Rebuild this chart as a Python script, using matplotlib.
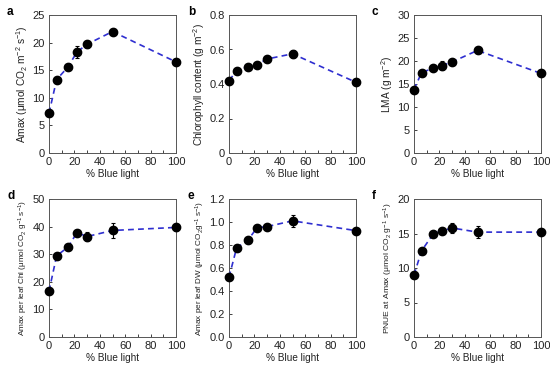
import matplotlib
matplotlib.use("Agg")
import matplotlib.pyplot as plt
from matplotlib.ticker import MultipleLocator

plt.rcParams['font.family'] = ['Liberation Sans', 'DejaVu Sans']
plt.rcParams['mathtext.fontset'] = 'custom'
plt.rcParams['mathtext.rm'] = 'Liberation Sans'
plt.rcParams['mathtext.it'] = 'Liberation Sans:italic'
plt.rcParams['mathtext.default'] = 'regular'

blue_pct = [0, 6, 15, 22, 30, 50, 100]

amax = [7.2, 13.3, 15.6, 18.3, 19.7, 22.0, 16.5]
amax_err = [0.4, 0.4, 0.4, 1.0, 0.6, 0.4, 0.3]

chl = [0.42, 0.476, 0.50, 0.512, 0.545, 0.575, 0.41]
chl_err = [0.01, 0.01, 0.01, 0.01, 0.01, 0.025, 0.01]

lma = [13.8, 17.5, 18.4, 19.0, 19.8, 22.3, 17.3]
lma_err = [0.3, 0.3, 0.3, 0.9, 0.3, 0.6, 0.3]

amax_chl = [16.6, 29.4, 32.6, 37.8, 36.4, 38.6, 39.7]
amax_chl_err = [0.5, 0.6, 0.6, 0.6, 1.6, 2.8, 1.2]

amax_dw = [0.52, 0.775, 0.843, 0.95, 0.96, 1.01, 0.925]
amax_dw_err = [0.02, 0.01, 0.01, 0.01, 0.01, 0.05, 0.01]

pnue = [9.0, 12.5, 14.9, 15.4, 15.8, 15.2, 15.2]
pnue_err = [0.2, 0.2, 0.2, 0.3, 0.7, 0.9, 0.3]

panels = [
    ('a', amax, amax_err, 'Amax (μmol CO$_2$ m$^{-2}$ s$^{-1}$)', (0, 25), 5, None, 7.3),
    ('b', chl, chl_err, 'Chlorophyll content (g m$^{-2}$)', (0, 0.8), 0.2, ['0', '0.2', '0.4', '0.6', '0.8'], 7.3),
    ('c', lma, lma_err, 'LMA (g m$^{-2}$)', (0, 30), 5, None, 7.3),
    ('d', amax_chl, amax_chl_err, 'Amax per leaf Chl (μmol CO$_2$ g$^{-1}$ s$^{-1}$)', (0, 50), 10, None, 5.9),
    ('e', amax_dw, amax_dw_err, 'Amax per leaf DW (μmol CO$_2$g$^{-1}$ s$^{-1}$)', (0, 1.2), 0.2,
     ['0.0', '0.2', '0.4', '0.6', '0.8', '1.0', '1.2'], 5.9),
    ('f', pnue, pnue_err, 'PNUE at Amax (μmol CO$_2$ g$^{-1}$ s$^{-1}$)', (0, 20), 5, None, 6.1),
]

W, H = 550, 368
fig = plt.figure(figsize=(W / 100, H / 100), dpi=100)

lefts = [49, 229, 414]
tops = [15, 199]
aw, ah = 127, 138
letter_x = [7, 188, 372]
letter_y = [12, 196]

for i, (lab, vals, errs, ylabel, ylim, step, ticklabels, ysize) in enumerate(panels):
    r, c = divmod(i, 3)
    ax = fig.add_axes([lefts[c] / W, (H - tops[r] - ah) / H, aw / W, ah / H])
    ax.errorbar(blue_pct, vals, yerr=errs, fmt='none', ecolor='black', elinewidth=0.8, capsize=1.5, capthick=0.8, zorder=2)
    ax.plot(blue_pct, vals, linestyle=(0, (3.5, 2.5)), color='#2f2fd0', linewidth=1.2, zorder=3)
    ax.plot(blue_pct, vals, linestyle='none', marker='o', markersize=6, color='black', zorder=4)
    ax.set_xlim(0, 100)
    ax.set_ylim(*ylim)
    ax.xaxis.set_major_locator(MultipleLocator(20))
    ax.xaxis.set_minor_locator(MultipleLocator(10))
    ax.yaxis.set_major_locator(MultipleLocator(step))
    if ticklabels is not None:
        ax.set_yticks([k * step for k in range(len(ticklabels))])
        ax.set_yticklabels(ticklabels)
    ax.tick_params(axis='both', which='both', direction='in', labelsize=8, colors='#222222',
                   length=2, width=0.6, pad=3)
    for s in ax.spines.values():
        s.set_linewidth(0.7)
        s.set_color('#555555')
    ax.set_xlabel('% Blue light', fontsize=7.2, labelpad=1.5, color='#222222')
    ax.set_ylabel(ylabel, fontsize=ysize, labelpad=2, color='#222222')
    for line in ax.lines:
        line.set_clip_on(False)
    fig.text(letter_x[c] / W, 1 - letter_y[r] / H, lab, fontsize=8.5, fontweight='bold', va='center', ha='left')

fig.savefig('out.png', dpi=100)
